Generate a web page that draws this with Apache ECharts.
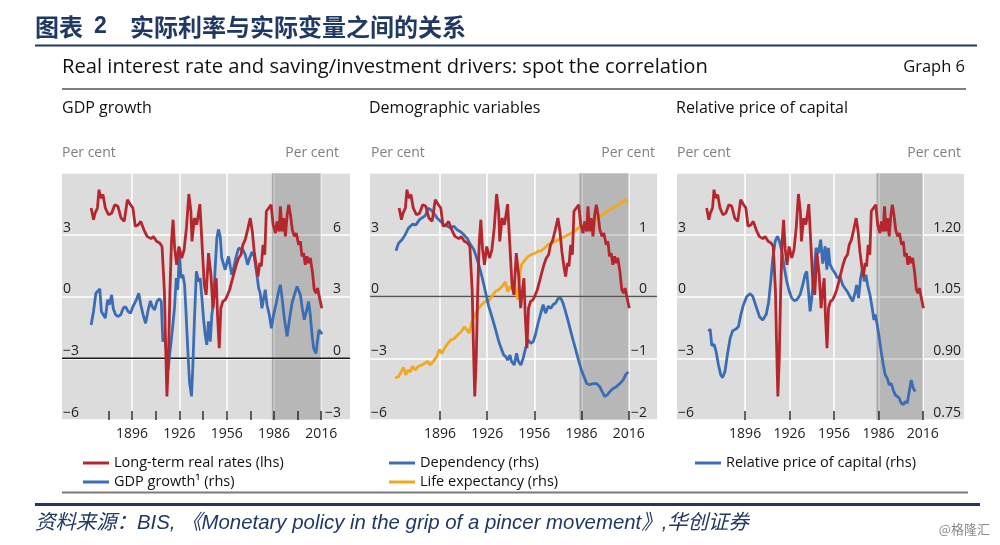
<!DOCTYPE html>
<html><head><meta charset="utf-8">
<script src="https://cdn.jsdelivr.net/npm/echarts@6/dist/echarts.min.js"></script>
<style>html,body{margin:0;padding:0;background:#fff;}#c{width:1000px;height:545px;}</style>
</head><body><div id="c"></div>
<script>
// ---- data ----
const xLabelYears = [1896, 1926, 1956, 1986, 2016];
const xTickYearsGdp = [1881, 1896, 1911, 1926, 1941, 1956, 1971, 1986, 2001, 2016];
const shadeYears = [1984.7, 2016];

const rateYears = [1870,1871.5,1872.5,1874,1875,1876,1877.5,1879,1881,1883,1885,1887,1889,1891,1893,1895,1896.5,1898,1900,1901.5,1903.5,1905.5,1908,1909.5,1911.5,1913.5,1915,1916.5,1917.2,1918.1,1919,1920,1921,1922,1923,1924.3,1925.7,1927.5,1929,1930.5,1932,1933.3,1934,1935.5,1937,1938,1939,1940.3,1941.8,1943,1944.5,1946,1947.3,1948.1,1949.4,1950.2,1951.3,1952.3,1953.6,1955.1,1956.6,1957.9,1959.3,1960.4,1962.1,1963.6,1965.1,1966.3,1967.8,1969.3,1971,1972.3,1973.5,1974.8,1975.9,1977,1978,1979.1,1980.2,1981.2,1982.7,1984.2,1985.5,1987,1988,1989.3,1990.1,1991.2,1992.2,1993.3,1994.4,1995.4,1996.5,1997.7,1999,2000.2,2001.7,2002.8,2003.8,2004.9,2005.9,2007,2008,2009.1,2010.4,2011.6,2012.9,2013.7,2015,2016.4];
const rateValues = [4.30,3.73,4.05,4.30,5.19,4.78,4.95,4.30,3.97,4.05,4.46,4.38,3.81,3.65,4.70,4.46,4.30,3.41,3.49,3.65,3.24,2.92,2.81,2.92,2.68,2.60,2.43,0.24,-2.19,-4.86,-3.16,0.24,2.68,3.73,2.35,1.54,2.43,1.87,2.27,3.33,4.98,4.14,2.68,3.81,3.49,3.97,4.49,2.68,0.57,0.08,2.11,1.06,-0.57,0.08,0.89,-0.89,-2.51,-0.57,-0.24,-0.16,0.08,0.33,0.73,1.06,1.54,1.87,2.03,2.51,2.76,3.24,3.81,3.16,2.19,1.46,0.97,1.62,1.46,2.51,2.03,4.14,4.30,4.46,3.49,3.08,3.65,3.16,4.38,3.16,3.81,2.92,3.97,4.46,3.97,3.24,2.92,3.08,2.51,2.68,1.95,2.11,1.54,1.95,1.62,1.87,1.22,0.33,0.16,0.41,-0.08,-0.57];

const gdpYears = [1870,1871.5,1873,1874,1875.5,1876.5,1877.5,1879,1880.5,1881.5,1883,1884,1885.5,1887,1888.8,1890.3,1891.8,1893.5,1895,1896.5,1898.7,1900.2,1901.5,1903,1904.6,1906,1907.6,1908.8,1910.3,1911.8,1913.3,1914.5,1915.5,1916.6,1917.6,1918.9,1919.8,1920.8,1921.9,1922.9,1924,1925,1926,1927.1,1928.2,1929.3,1930.3,1931.3,1932.4,1933.7,1934.5,1935.6,1936.8,1938.1,1939.2,1940.3,1941.3,1942.4,1943.4,1944.5,1945.6,1946.6,1947.7,1948.7,1949.8,1950.8,1951.9,1952.9,1954,1955.1,1956.2,1957.2,1958.3,1959.3,1960.4,1962.1,1963.6,1964.7,1966.3,1967.8,1969.3,1970.6,1972.1,1973.5,1975.2,1976.3,1977.3,1978.4,1979.5,1980.5,1981.6,1983.1,1984.4,1985.8,1987.5,1989,1990.1,1991.2,1992.6,1994.4,1996,1997.5,1999,2000.7,2001.7,2002.8,2004,2005.3,2006.6,2008,2009.1,2010.2,2011.2,2012.7,2013.7,2014.6,2015.8,2016.6];
const gdpValues = [1.62,2.27,3.16,3.24,3.37,2.27,2.35,1.95,2.84,2.60,3.08,2.43,2.11,2.03,2.11,2.43,2.51,2.27,2.19,2.51,2.84,3.16,2.60,2.11,1.70,2.27,2.79,2.51,2.35,2.76,2.89,2.76,0.81,1.13,0.49,-0.55,0.16,0.81,0.73,2.43,3.89,3.33,5.10,3.89,4.06,3.57,2.11,0.49,-1.13,-1.85,-0.48,1.95,4.22,3.73,3.89,2.92,1.95,1.14,0.65,1.79,0.81,2.11,2.76,4.38,5.84,6.26,5.92,4.87,4.87,4.30,4.22,4.95,4.46,4.06,4.38,4.95,5.35,5.43,5.27,5.03,4.54,4.87,5.16,4.95,4.06,3.41,3.16,2.43,2.92,3.33,2.60,2.11,1.46,2.11,2.68,3.24,3.57,2.92,1.95,1.06,1.95,2.68,3.08,3.49,3.57,3.08,2.43,1.87,2.27,2.76,2.11,1.14,0.49,0.24,0.89,1.38,1.30,1.17];

const depYears = [1868,1869.6,1871.8,1873.9,1876,1878.5,1880.7,1882.8,1885,1886.7,1888.4,1889.9,1892,1894.2,1896.3,1898.4,1900.6,1902.7,1904.8,1906.9,1909,1911.2,1913.3,1915.4,1917.5,1919,1920.7,1922.4,1923.9,1925.3,1927,1928.7,1930.2,1931.7,1933.4,1934.9,1936.6,1938,1939,1940.5,1941.5,1943.2,1944.7,1945.8,1947.4,1948.9,1950.4,1952,1953.8,1955.3,1956.7,1958.4,1960.1,1961.6,1963.1,1964.8,1966.5,1968,1969.4,1971.2,1972.9,1974.3,1975.8,1977.5,1979.2,1980.9,1982.6,1984.3,1985.9,1987.6,1989.3,1991.2,1993.3,1995.5,1997.6,1999.1,2000.8,2002.5,2004,2006.1,2008.2,2010.4,2012.5,2014,2015.7];
const depValues = [0.74,0.86,0.92,1.00,1.11,1.17,1.16,1.24,1.28,1.31,1.43,1.41,1.35,1.27,1.22,1.16,1.14,1.11,1.14,1.08,1.05,1.00,0.94,0.84,0.76,0.65,0.51,0.35,0.19,0.03,-0.16,-0.30,-0.43,-0.57,-0.73,-0.84,-0.95,-0.98,-1.03,-0.95,-1.05,-1.11,-0.92,-1.05,-1.11,-1.00,-0.84,-0.70,-0.76,-0.73,-0.62,-0.43,-0.27,-0.13,-0.27,-0.16,-0.19,-0.13,-0.11,-0.03,-0.03,-0.11,-0.24,-0.40,-0.57,-0.73,-0.89,-1.05,-1.19,-1.30,-1.41,-1.43,-1.41,-1.41,-1.46,-1.54,-1.62,-1.59,-1.54,-1.49,-1.46,-1.41,-1.35,-1.27,-1.22];

const lifeYears = [1867.5,1869.6,1871.3,1872.8,1874.3,1875.6,1877,1878.5,1880.2,1882.3,1884.4,1886.5,1888.2,1889.7,1891.8,1894,1895.5,1897.2,1898.8,1901,1903.1,1905.2,1907.3,1909.5,1911.6,1913.1,1914.6,1916.3,1917.4,1918.8,1920.5,1922.6,1924.8,1926.9,1929,1931.2,1933.3,1935.4,1937.6,1939,1940.5,1942,1943.6,1945.3,1946.2,1947.8,1950,1952,1954.2,1956.3,1958.4,1960.5,1962.7,1964.8,1966.9,1969,1971.2,1973.3,1975.4,1977.5,1979.7,1981.8,1983.9,1986.4,1989.2,1991.9,1994.5,1997,1999.8,2002.5,2005.1,2007.6,2010.4,2012.5,2014,2015.3];
const lifeValues = [-1.32,-1.30,-1.22,-1.15,-1.27,-1.19,-1.22,-1.13,-1.19,-1.13,-1.11,-1.08,-1.05,-1.11,-1.05,-0.97,-0.86,-0.92,-0.84,-0.76,-0.70,-0.68,-0.62,-0.57,-0.49,-0.54,-0.59,-0.41,-0.35,-0.27,-0.19,-0.13,-0.08,-0.07,0.00,0.08,0.11,0.16,0.24,0.08,0.16,0.11,0.19,-0.05,0.24,0.51,0.59,0.65,0.68,0.70,0.73,0.74,0.79,0.84,0.86,0.89,0.92,0.95,0.97,1.00,1.03,1.06,1.11,1.14,1.17,1.22,1.24,1.28,1.33,1.38,1.42,1.46,1.50,1.54,1.57,1.53];

const rpcYears = [1871.3,1872.4,1873.5,1875.1,1876.4,1878,1879.5,1880.8,1882.4,1884,1885.9,1887.6,1889.9,1891.5,1893.1,1894.9,1897.1,1899.4,1901.2,1903.4,1905.7,1907.9,1910.2,1911.8,1913.3,1914.7,1916.3,1917.8,1919.2,1920.8,1922.3,1924.1,1925.9,1927.5,1929.1,1930.9,1933.1,1934.9,1936.5,1937.6,1938.8,1939.9,1941,1942.6,1943.9,1945.5,1947,1948.4,1950,1951.2,1952.2,1953.3,1955.1,1956.7,1958.3,1960.1,1961.9,1963.4,1965,1966.8,1968.6,1970.2,1971.3,1972.6,1974,1975.3,1976.4,1977.6,1978.7,1980.3,1981.8,1983,1983.9,1985.2,1986.6,1987.9,1989.3,1990.6,1992,1993.3,1994.7,1996,1997.4,1998.7,2000.1,2001.4,2002.8,2004.1,2005.5,2006.8,2008.2,2009.5,2010.9];
const rpcValues = [0.965,0.971,0.931,0.933,0.916,0.884,0.860,0.853,0.868,0.908,0.949,0.967,0.971,0.977,1.006,1.030,1.050,1.057,1.050,1.026,1.001,0.993,1.006,1.034,1.087,1.143,1.184,1.196,1.184,1.160,1.123,1.087,1.062,1.046,1.040,1.042,1.054,1.078,1.103,1.111,1.062,1.014,1.046,1.111,1.168,1.155,1.188,1.130,1.172,1.115,1.168,1.128,1.115,1.107,1.095,1.099,1.078,1.070,1.062,1.050,1.038,1.058,1.078,1.046,1.095,1.119,1.087,1.103,1.078,1.054,1.022,0.993,1.006,0.981,0.949,0.916,0.884,0.860,0.851,0.835,0.839,0.823,0.811,0.815,0.803,0.791,0.787,0.795,0.791,0.819,0.847,0.827,0.819];

const lhsRange = [-6, 6, 3];
const rhsGdpRange = [-3, 9, 3];
const rhsDemoRange = [-2, 2, 1];
const rhsPriceRange = [0.75, 1.35, 0.15];
const gdpZeroLine = -3;   // lhs level of rhs zero (panel 1)
const demoZeroLine = 0;

// ---- helpers ----
const zip = (xs, ys) => xs.map((x, i) => [x, ys[i]]);
const FONT = "'Open Sans', 'Noto Sans', sans-serif";
const RED = '#b5272d', BLUE = '#3b6db5', ORANGE = '#f2a81d';
const minus = v => String(v).replace('-', '\u2212');

const grids = [
  {left: 62, top: 173, width: 288, height: 247},
  {left: 370, top: 173, width: 287, height: 247},
  {left: 677, top: 173, width: 287, height: 247}
];
const xRanges = [[1851.5, 2034.3], [1851.5, 2034.0], [1850.0, 2043.8]];
const rhsMargins = [9, 10, 3];

const xAxes = [], yAxes = [];
grids.forEach((g, i) => {
  const [mn, mx] = xRanges[i];
  // label/tick axis
  xAxes.push({
    type: 'value', gridIndex: i, min: mn, max: mx, position: 'bottom',
    axisLine: {show: false, onZero: false},
    axisTick: {show: true, inside: true, length: 9, customValues: i === 0 ? xTickYearsGdp : xLabelYears,
      lineStyle: {color: '#333', width: 1.5}},
    axisLabel: {customValues: xLabelYears, color: '#222', fontSize: 14, fontFamily: FONT, margin: 7,
      formatter: v => String(Math.round(v))},
    splitLine: {show: false}
  });
  // gridline axis
  xAxes.push({
    type: 'value', gridIndex: i, min: mn, max: mx, position: 'bottom',
    axisLine: {show: false, onZero: false},
    axisTick: {show: false, customValues: xLabelYears},
    axisLabel: {show: false, customValues: xLabelYears},
    splitLine: {show: true, lineStyle: {color: '#ffffff', width: 1.5}}
  });
  yAxes.push({
    type: 'value', gridIndex: i, position: 'left', min: lhsRange[0], max: lhsRange[1], interval: lhsRange[2],
    axisLine: {show: false}, axisTick: {show: false},
    axisLabel: {inside: true, margin: 1, verticalAlign: 'bottom', showMaxLabel: false,
      color: '#222', fontSize: 14, fontFamily: FONT, formatter: v => minus(v)},
    splitLine: {show: true, lineStyle: {color: '#ffffff', width: 1.5}}
  });
  const r = [rhsGdpRange, rhsDemoRange, rhsPriceRange][i];
  yAxes.push({
    type: 'value', gridIndex: i, position: 'right', min: r[0], max: r[1], interval: r[2],
    axisLine: {show: false}, axisTick: {show: false}, splitLine: {show: false},
    axisLabel: {inside: true, margin: rhsMargins[i], verticalAlign: 'bottom', showMaxLabel: false,
      color: '#222', fontSize: 14, fontFamily: FONT,
      formatter: v => i === 2 ? Number(v).toFixed(2) : minus(Math.round(v))}
  });
});

const shadeArea = {
  silent: true, z: 1,
  itemStyle: {color: 'rgba(0,0,0,0.17)'},
  data: [
    [{xAxis: shadeYears[0]}, {xAxis: shadeYears[1]}],
    [{xAxis: shadeYears[0]}, {xAxis: shadeYears[0] + 1.6, itemStyle: {color: 'rgba(0,0,0,0.07)'}}]
  ]
};
const lineStyle = (c) => ({color: c, width: 2.8});
const base = {type: 'line', showSymbol: false, symbol: 'none', animation: false, silent: true};

const series = [
  // panel 1
  Object.assign({}, base, {name: 'shade1', xAxisIndex: 1, yAxisIndex: 0,
    data: [[xRanges[0][0], gdpZeroLine], [xRanges[0][1], gdpZeroLine]],
    lineStyle: {color: '#1a1a1a', width: 1.4}, markArea: shadeArea}),
  Object.assign({}, base, {name: 'GDP growth\u00b9 (rhs)', xAxisIndex: 0, yAxisIndex: 1,
    data: zip(gdpYears, gdpValues), lineStyle: lineStyle(BLUE), itemStyle: {color: BLUE}}),
  Object.assign({}, base, {name: 'Long-term real rates (lhs)', xAxisIndex: 0, yAxisIndex: 0,
    data: zip(rateYears, rateValues), lineStyle: lineStyle(RED), itemStyle: {color: RED}}),
  // panel 2
  Object.assign({}, base, {name: 'shade2', xAxisIndex: 3, yAxisIndex: 2,
    data: [[xRanges[1][0], demoZeroLine], [xRanges[1][1], demoZeroLine]],
    lineStyle: {color: '#555', width: 1.4}, markArea: shadeArea}),
  Object.assign({}, base, {name: 'Life expectancy (rhs)', xAxisIndex: 2, yAxisIndex: 3,
    data: zip(lifeYears, lifeValues), lineStyle: lineStyle(ORANGE), itemStyle: {color: ORANGE}}),
  Object.assign({}, base, {name: 'Dependency (rhs)', xAxisIndex: 2, yAxisIndex: 3,
    data: zip(depYears, depValues), lineStyle: lineStyle(BLUE), itemStyle: {color: BLUE}}),
  Object.assign({}, base, {name: 'Long-term real rates (lhs)', xAxisIndex: 2, yAxisIndex: 2,
    data: zip(rateYears, rateValues), lineStyle: lineStyle(RED), itemStyle: {color: RED}}),
  // panel 3
  Object.assign({}, base, {name: 'shade3', xAxisIndex: 5, yAxisIndex: 4, data: [],
    markArea: shadeArea}),
  Object.assign({}, base, {name: 'Relative price of capital (rhs)', xAxisIndex: 4, yAxisIndex: 5,
    data: zip(rpcYears, rpcValues), lineStyle: lineStyle(BLUE), itemStyle: {color: BLUE}}),
  Object.assign({}, base, {name: 'Long-term real rates (lhs)', xAxisIndex: 4, yAxisIndex: 4,
    data: zip(rateYears, rateValues), lineStyle: lineStyle(RED), itemStyle: {color: RED}})
];

const legendBase = {
  orient: 'vertical', top: 450, itemWidth: 26, itemHeight: 3, itemGap: 3, icon: 'rect',
  selectedMode: false,
  textStyle: {fontFamily: FONT, fontSize: 14.5, color: '#111', lineHeight: 16}
};
const legends = [
  Object.assign({}, legendBase, {left: 78, data: ['Long-term real rates (lhs)', 'GDP growth\u00b9 (rhs)']}),
  Object.assign({}, legendBase, {left: 384, data: ['Dependency (rhs)', 'Life expectancy (rhs)']}),
  Object.assign({}, legendBase, {left: 690, data: ['Relative price of capital (rhs)']})
];

const NAVY = '#1f3864';
const txt = (text, x, y, opts) => ({type: 'text', silent: true, style: Object.assign({
  text, x, y, textVerticalAlign: 'middle', textAlign: 'left', fill: '#111', font: '16px ' + FONT}, opts || {})});
const hline = (x1, x2, y, color, w) => ({type: 'line', silent: true, shape: {x1, y1: y, x2, y2: y},
  style: {stroke: color, lineWidth: w}});

const graphic = [
  txt('图表', 35, 27, {fill: NAVY, font: "bold 24px 'Noto Sans CJK SC', sans-serif"}),
  txt('2', 94, 27, {fill: NAVY, font: "bold 23px 'Liberation Sans', 'Noto Sans CJK SC', sans-serif"}),
  txt('实际利率与实际变量之间的关系', 130, 27, {fill: NAVY, font: "bold 24px 'Noto Sans CJK SC', sans-serif"}),
  hline(35, 977, 45.5, NAVY, 2),
  txt('Real interest rate and saving/investment drivers: spot the correlation', 62, 67, {font: '20.2px ' + FONT}),
  txt('Graph 6', 965, 67, {textAlign: 'right', font: '16.5px ' + FONT}),
  hline(62, 966, 89, '#555', 1.5),
  txt('GDP growth', 62, 108),
  txt('Demographic variables', 369, 108),
  txt('Relative price of capital', 676, 108),
  txt('Per cent', 62, 153, {fill: '#7f7f7f', font: '14px ' + FONT}),
  txt('Per cent', 339, 153, {fill: '#7f7f7f', font: '14px ' + FONT, textAlign: 'right'}),
  txt('Per cent', 371, 153, {fill: '#7f7f7f', font: '14px ' + FONT}),
  txt('Per cent', 655, 153, {fill: '#7f7f7f', font: '14px ' + FONT, textAlign: 'right'}),
  txt('Per cent', 677, 153, {fill: '#7f7f7f', font: '14px ' + FONT}),
  txt('Per cent', 961, 153, {fill: '#7f7f7f', font: '14px ' + FONT, textAlign: 'right'}),
  hline(62, 968, 492.5, '#7a7a7a', 2),
  hline(35, 980, 504.5, NAVY, 3),
  txt('资料来源：BIS, 《Monetary policy in the grip of a pincer movement》,华创证券', 35, 523,
    {fill: NAVY, font: "italic 20.4px 'Liberation Sans', 'Noto Sans CJK SC', sans-serif"}),
  txt('@格隆汇', 990, 529, {textAlign: 'right', fill: '#8a8a8a', font: "13px 'Noto Sans CJK SC', sans-serif"})
];

const chart = echarts.init(document.getElementById('c'), null, {renderer: 'canvas'});
chart.setOption({
  backgroundColor: '#ffffff',
  animation: false,
  grid: grids.map(g => Object.assign({show: true, backgroundColor: '#dcdcdc', borderWidth: 0, containLabel: false}, g)),
  xAxis: xAxes,
  yAxis: yAxes,
  legend: legends,
  series,
  graphic
});
</script></body></html>
